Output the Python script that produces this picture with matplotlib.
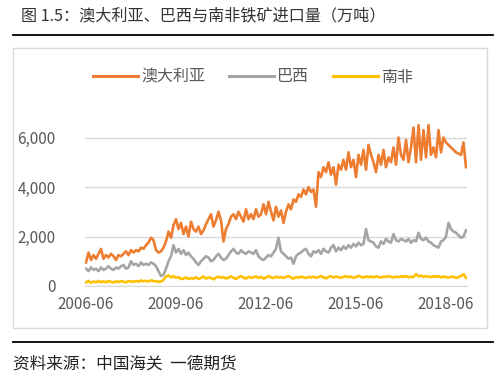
import matplotlib
matplotlib.use("Agg")
import matplotlib.pyplot as plt
from matplotlib.patches import Rectangle
from matplotlib.lines import Line2D

plt.rcParams['font.family'] = ['Noto Sans CJK SC', 'DejaVu Sans']

# Monthly imports, 10k tonnes, 2006-06 .. 2019-02
australia = [
    950, 1350, 1050, 1250, 1100, 1300, 1500,
    1100, 1250, 1150, 1300, 1200, 1050, 1250, 1200, 1300, 1400, 1250, 1450,
    1350, 1450, 1400, 1550, 1500, 1650, 1750, 1950, 1850, 1450, 1350, 1400,
    1550, 1800, 2200, 1950, 2450, 2700, 2300, 2550, 2100, 2400, 2000, 2600,
    2300, 2200, 2400, 2100, 2250, 2500, 2700, 2900, 2400, 2650, 3000, 2650,
    1800, 2300, 2500, 2800, 2900, 2700, 3000, 2800, 2600, 3100, 2700, 2900,
    2700, 3100, 2800, 2900, 3300, 2900, 3400, 3000, 2650, 3200, 2800, 3050,
    2550, 3000, 3300, 3100, 3500, 3400, 3700, 3600, 3900, 3700, 4000, 3800,
    3900, 3200, 4600, 4400, 4800, 4600, 5000, 4500, 4800, 4100, 4900, 4700,
    5100, 4700, 5400, 4800, 5100, 4400, 5300, 4900, 5500, 4700, 5700, 5300,
    5000, 4600, 5300, 4900, 5500, 4800, 5200, 5000, 5600, 4900, 6000, 5300,
    5100, 5900, 5000, 5600, 6400, 5000, 6500, 5100, 6300, 5200, 6500, 5300,
    5600, 5200, 6300, 5400, 6000, 5800, 5700, 5600, 5500, 5400, 5350, 5300,
    5800, 4800,
]
brazil = [
    700, 600, 750, 650, 700, 600, 750,
    650, 700, 800, 700, 650, 750, 700, 800, 850, 700, 750, 1000,
    850, 900, 800, 950, 850, 900, 850, 950, 900, 800, 600, 400,
    450, 700, 1000, 1200, 1650, 1350, 1500, 1300, 1450, 1250, 1350, 1200,
    1100, 950, 850, 1000, 1100, 1200, 1150, 1000, 1050, 1200, 1300, 1150,
    1050, 1100, 1250, 1400, 1500, 1350, 1300, 1450, 1350, 1300, 1400, 1350,
    1300, 1450, 1200, 1100, 1050, 1150, 1250, 1200, 1350, 1500, 1950, 1400,
    1300, 1200, 1100, 1150, 900, 1200, 1300, 1350, 1450, 1500, 1300, 1200,
    1400, 1350, 1450, 1300, 1500, 1400, 1350, 1550, 1650, 1400, 1550, 1450,
    1600, 1500, 1650, 1550, 1700, 1600, 1750, 1650, 1700, 2300, 1850, 1800,
    1750, 1600, 1550, 1800, 1700, 1900, 1800, 1750, 2100, 1850, 1800, 1900,
    1850, 1800, 1900, 1750, 1850, 1800, 2150, 1900, 1850, 1950, 1800, 1750,
    1650, 1600, 1550, 1800, 1850, 2000, 2550, 2300, 2200, 2150, 2050, 1950,
    2000, 2250,
]
south_africa = [
    150, 200, 130, 180, 150, 200, 160,
    180, 150, 200, 170, 140, 190, 160, 200, 170, 150, 200, 180,
    170, 200, 180, 220, 190, 210, 180, 230, 200, 190, 170, 180,
    250, 380, 430, 350, 400, 330, 360, 280, 300, 350, 280, 320,
    300, 350, 280, 330, 380, 300, 350, 320, 270, 340, 380, 330,
    360, 300, 340, 390, 330, 290, 350, 400, 340, 300, 370, 330,
    350, 390, 330, 370, 300, 340, 400, 350, 320, 380, 340, 360,
    320, 370, 400, 340, 300, 360, 330, 380, 350, 320, 370, 340,
    380, 330, 360, 400, 350, 310, 370, 400, 340, 380, 360, 330,
    370, 400, 350, 380, 330, 360, 410, 370, 340, 390, 360, 380,
    350, 390, 370, 340, 380, 360, 400, 370, 350, 380, 360, 390,
    370, 400, 350, 380, 360, 480, 390, 420, 370, 400, 380, 360,
    390, 370, 400, 350, 380, 360, 340, 370, 380, 320, 360, 400,
    480, 330,
]
series_names = ['澳大利亚', '巴西', '南非']
series_colors = ['#ED7D31', '#A5A5A5', '#FFC000']
tick_labels = ['2006-06', '2009-06', '2012-06', '2015-06', '2018-06']
tick_pos = [0, 36, 72, 108, 144]
y_ticks = [0, 2000, 4000, 6000]

W, H = 500, 382
fig = plt.figure(figsize=(W / 100, H / 100), dpi=100)

def fx(px):
    return px / W

def fy(py):
    return 1 - py / H

# title and rules
fig.text(fx(21), fy(16), '图 1.5：澳大利亚、巴西与南非铁矿进口量（万吨）',
         fontsize=11.6, color='#333333', va='center', ha='left')
fig.add_artist(Line2D([fx(13), fx(493)], [fy(35), fy(35)], color='black', lw=1.3))
fig.add_artist(Line2D([fx(13), fx(493)], [fy(342), fy(342)], color='black', lw=1.3))
fig.text(fx(13), fy(364), '资料来源：中国海关  一德期货',
         fontsize=12, color='#222222', va='center', ha='left')

# chart frame
fig.add_artist(Rectangle((fx(13), fy(328)), fx(487) - fx(13), fy(48) - fy(328),
                         transform=fig.transFigure, fill=False,
                         edgecolor='#D9D9D9', lw=1.0))

# plot area
ax = fig.add_axes([fx(84.75), fy(286), fx(467.25) - fx(84.75), fy(112.75) - fy(286)])
x = list(range(len(australia)))
for vals, name, col in zip([australia, brazil, south_africa], series_names, series_colors):
    ax.plot(x, vals, color=col, lw=1.9, label=name, zorder=3)

ax.set_xlim(-0.5, len(australia) - 0.5)
ax.set_ylim(0, 7000)
ax.set_yticks(y_ticks)
ax.set_yticklabels(['{:,}'.format(v) for v in y_ticks])
ax.set_xticks(tick_pos)
ax.set_xticklabels(tick_labels)
ax.grid(axis='y', color='#D9D9D9', lw=1.0)
ax.set_axisbelow(True)
for s in ['left', 'right', 'top']:
    ax.spines[s].set_visible(False)
ax.spines['bottom'].set_color('#D9D9D9')
ax.tick_params(length=0, labelsize=11, colors='#595959')
ax.tick_params(axis='y', pad=21)
ax.tick_params(axis='x', pad=7)
ax.patch.set_alpha(0)

# legend
handles = [Line2D([], [], color=c, lw=2.2) for c in series_colors]
fig.legend(handles, series_names, loc='center', bbox_to_anchor=(fx(253), fy(77)),
           ncol=3, frameon=False, fontsize=11.5, labelcolor='#595959',
           handlelength=2.8, handletextpad=0.2, columnspacing=1.5)

fig.savefig('out.png', dpi=100)
